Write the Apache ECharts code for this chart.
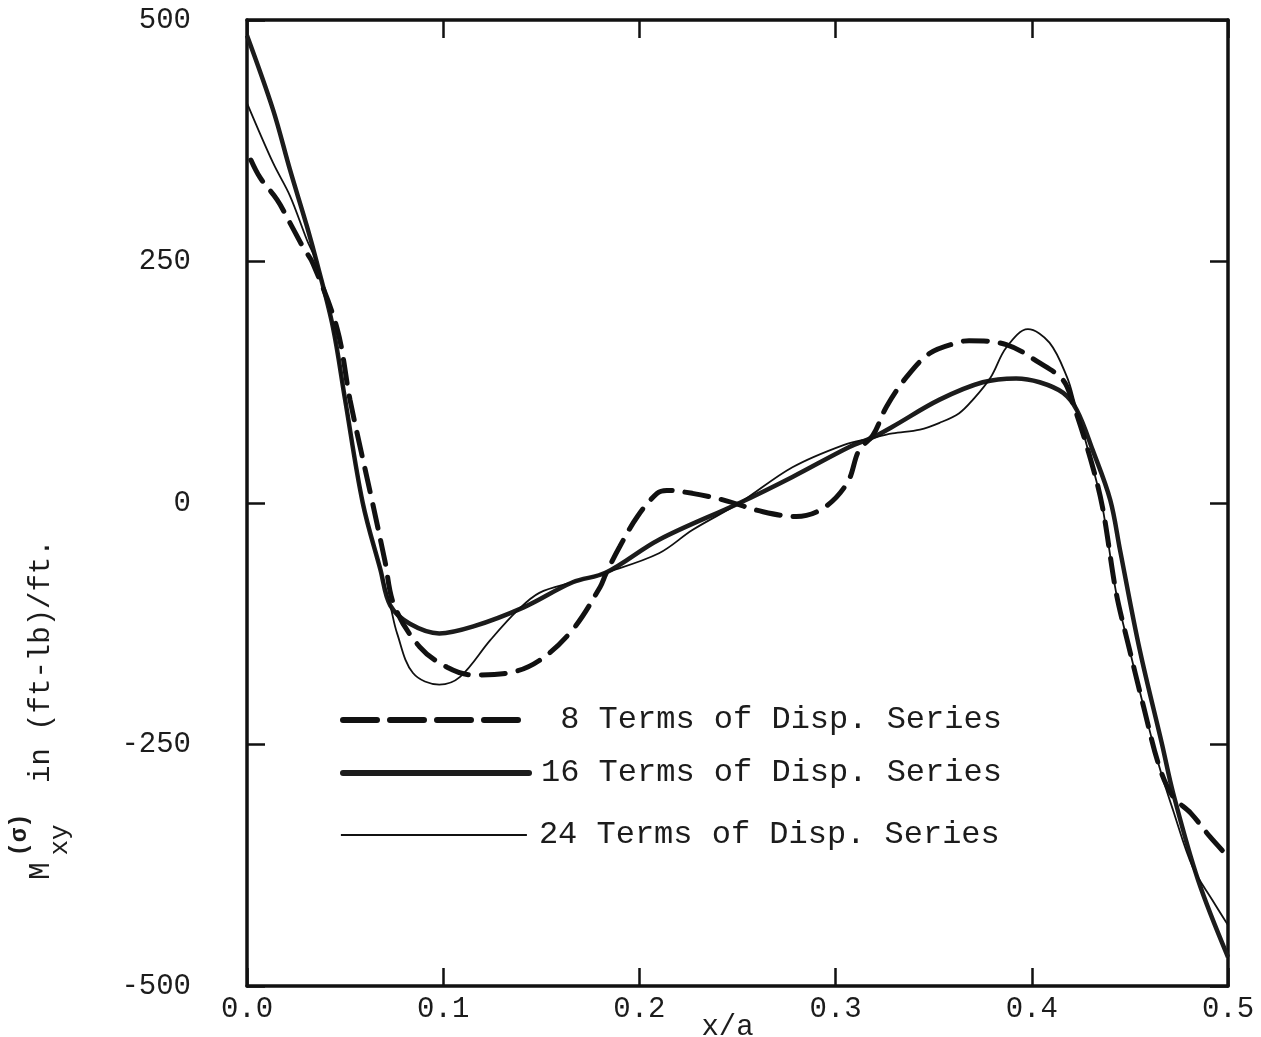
<!DOCTYPE html>
<html>
<head>
<meta charset="utf-8">
<script src="https://cdn.jsdelivr.net/npm/echarts@6/dist/echarts.min.js"></script>
<style>html,body{margin:0;padding:0;background:#fff;}#c{width:1261px;height:1037px;}</style>
</head>
<body>
<div id="c"></div>
<script>
// ---- data ----
const seriesNames = ['8 Terms of Disp. Series', '16 Terms of Disp. Series', '24 Terms of Disp. Series'];
const xTicks = [0.0, 0.1, 0.2, 0.3, 0.4, 0.5];
const yTicks = [-500, -250, 0, 250, 500];

// 8 terms (dashed)
const x8 = [0.002,0.0066,0.0153,0.0219,0.0285,0.0336,0.046,0.0525,0.064,0.0703,0.075,0.088,0.102,0.115,0.133,0.149,0.166,0.18,0.183,0.19,0.199,0.209,0.214,0.227,0.243,0.263,0.28,0.294,0.306,0.312,0.319,0.326,0.336,0.348,0.362,0.368,0.387,0.404,0.416,0.421,0.43,0.436,0.443,0.449,0.457,0.465,0.472,0.481,0.491,0.5];
const y8 = [355,337,314,290,265,248,180,107,0,-60,-106,-149,-170,-178,-176,-163,-131,-87,-73,-45,-14,10,13,10,3,-9,-14,-5,21,55,70,100,130,155,166,168,164,145,127,103,45,-4,-93,-145,-211,-273,-304,-321,-346,-366];

// 16 terms (thick solid)
const x16 = [0,0.0133,0.0219,0.0306,0.0357,0.0438,0.05,0.059,0.068,0.073,0.083,0.098,0.115,0.141,0.166,0.183,0.21,0.251,0.278,0.307,0.319,0.329,0.353,0.375,0.392,0.404,0.416,0.423,0.431,0.44,0.445,0.455,0.4664,0.472,0.4847,0.5];
const y16 = [484,407,345,286,248,182,107,0,-69,-106,-125,-135,-128,-108,-82,-72,-38,0,27,58,68,79,107,125,129,125,114,96,55,3,-49,-152,-250,-300,-390,-470];

// 24 terms (thin solid)
const x24 = [0,0.0133,0.0219,0.0306,0.0357,0.0438,0.05,0.059,0.068,0.073,0.0765,0.0846,0.098,0.1086,0.124,0.138,0.149,0.166,0.183,0.21,0.227,0.251,0.278,0.304,0.318,0.329,0.343,0.353,0.363,0.37,0.379,0.387,0.398,0.409,0.418,0.422,0.43,0.436,0.443,0.449,0.457,0.465,0.472,0.482,0.492,0.5];
const y24 = [414,352,318,272,248,182,107,0,-69,-106,-135,-176,-188,-180,-142,-111,-93,-82,-72,-52,-28,0,37,60,67,72,76,83,93,107,130,161,180,166,130,103,45,-4,-93,-145,-211,-273,-318,-377,-411,-437];

const pair = (xs, ys) => xs.map((x, i) => [x, ys[i]]);
const FONT = '"Liberation Mono", "DejaVu Sans Mono", monospace';
const INK = '#1c1c1c';

const chart = echarts.init(document.getElementById('c'));
const legendBase = {
  orient: 'horizontal', left: 340, itemWidth: 186, itemHeight: 10, padding: 0,
  selectedMode: false,
  itemStyle: { opacity: 0, color: 'transparent', borderWidth: 0 },
  textStyle: { fontFamily: FONT, fontSize: 32, color: INK, padding: [0, 0, 0, 7] }
};
const axisCommon = {
  type: 'value',
  axisLine: { show: true, onZero: false, lineStyle: { color: '#111', width: 3.5 } },
  axisTick: { show: true, inside: true, length: 18, lineStyle: { color: '#111', width: 2.5 } },
  splitLine: { show: false }
};
chart.setOption({
  animation: false,
  backgroundColor: '#fff',
  grid: { left: 247, right: 33, top: 20, bottom: 51, containLabel: false, outerBoundsMode: 'none' },
  legend: [
    Object.assign({}, legendBase, { top: 704, data: [{ name: seriesNames[0] }], formatter: ' 8 Terms of Disp. Series',
      lineStyle: { color: '#111', width: 6, type: [34, 13], cap: 'round' } }),
    Object.assign({}, legendBase, { top: 757, data: [{ name: seriesNames[1] }],
      lineStyle: { color: INK, width: 6, type: 'solid', cap: 'round' } }),
    Object.assign({}, legendBase, { top: 819, data: [{ name: seriesNames[2] }],
      lineStyle: { color: '#111', width: 1.8, type: 'solid' } })
  ],
  xAxis: [
    Object.assign({}, axisCommon, {
      min: 0, max: 0.5, interval: 0.1, position: 'bottom',
      name: 'x/a', nameLocation: 'middle', nameGap: 27, nameMoveOverlap: false,
      nameTextStyle: { fontFamily: FONT, fontSize: 29, color: INK, padding: [0, 20, 0, 0] },
      axisLabel: { margin: 9, fontFamily: FONT, fontSize: 29, color: INK,
        formatter: v => v.toFixed(1) }
    }),
    Object.assign({}, axisCommon, {
      min: 0, max: 0.5, interval: 0.1, position: 'top', axisLabel: { show: false }
    })
  ],
  yAxis: [
    Object.assign({}, axisCommon, {
      min: -500, max: 500, interval: 250, position: 'left',
      axisLabel: { margin: 56, fontFamily: FONT, fontSize: 29, color: INK }
    }),
    Object.assign({}, axisCommon, {
      min: -500, max: 500, interval: 250, position: 'right', axisLabel: { show: false }
    })
  ],
  graphic: [{
    type: 'group', x: 41, y: 706, rotation: Math.PI / 2,
    children: [
      { type: 'text', x: -165, y: 0, style: { text: 'M', font: '29px ' + FONT, fill: INK, align: 'center', verticalAlign: 'middle' } },
      { type: 'text', x: -129, y: -21, style: { text: '(σ)', font: 'bold 24px ' + FONT, fill: INK, align: 'center', verticalAlign: 'middle' } },
      { type: 'text', x: -134, y: 19, style: { text: 'xy', font: '26px ' + FONT, fill: INK, align: 'center', verticalAlign: 'middle' } },
      { type: 'text', x: -77, y: 0, style: { text: 'in (ft-lb)/ft.', font: '29px ' + FONT, fill: INK, align: 'left', verticalAlign: 'middle' } }
    ]
  }],
  series: [
    { name: seriesNames[0], type: 'line', smooth: 0.35, symbol: 'none', data: pair(x8, y8),
      lineStyle: { color: '#111', width: 5, type: [24, 13], cap: 'round' }, itemStyle: { color: '#111' }, z: 3 },
    { name: seriesNames[1], type: 'line', smooth: 0.35, symbol: 'none', data: pair(x16, y16),
      lineStyle: { color: INK, width: 4.5 }, itemStyle: { color: INK }, z: 2 },
    { name: seriesNames[2], type: 'line', smooth: 0.35, symbol: 'none', data: pair(x24, y24),
      lineStyle: { color: '#111', width: 1.8 }, itemStyle: { color: '#111' }, z: 4 }
  ]
});
</script>
</body>
</html>
